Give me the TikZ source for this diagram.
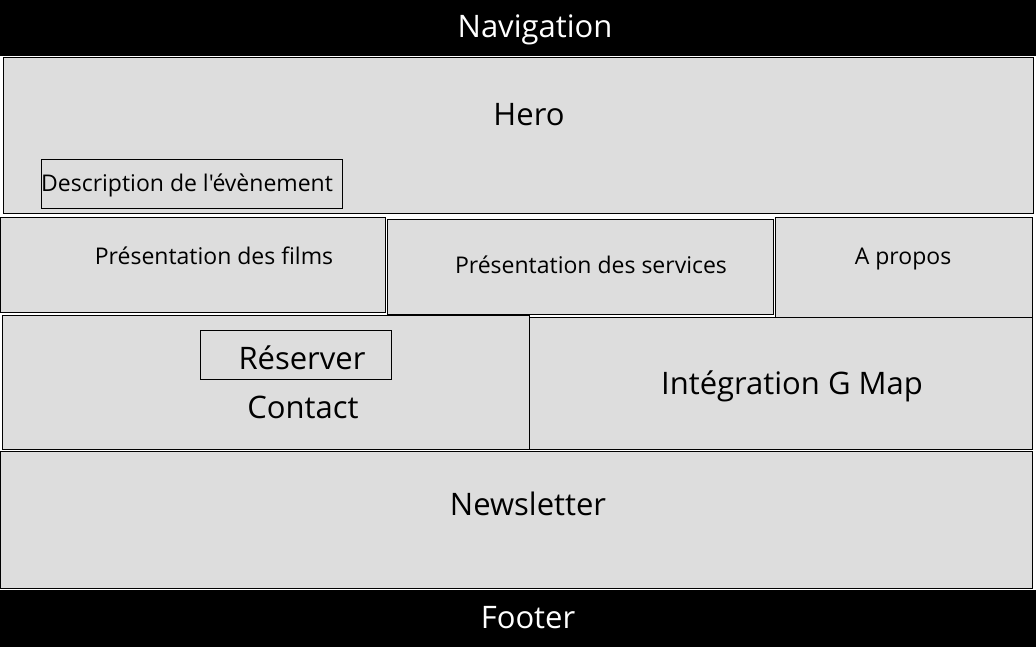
\documentclass[tikz,border=0pt]{standalone}
\usepackage{fontspec}
\setmainfont{Open Sans}[Ligatures=TeXOff]
\usetikzlibrary{positioning}
\definecolor{panelgray}{RGB}{221,221,221}
\newcommand{\fsz}[1]{\fontsize{#1}{#1}\selectfont}

\begin{document}
\begin{tikzpicture}[x=1pt, y=-1pt,
    panel/.style={draw, fill=panelgray, line width=1.3pt, inner sep=0pt, anchor=north west},
    btn/.style={draw, line width=1.3pt, inner sep=0pt, anchor=north west},
    bar/.style={fill=black, inner sep=0pt, anchor=north west},
    big/.style={font=\fsz{31}, anchor=base, inner sep=0pt},
    small/.style={font=\fsz{23}, anchor=base, inner sep=0pt},
]
\useasboundingbox (0,0) rectangle (1036,647);
% top and bottom bars
\node[bar, minimum width=1036pt, minimum height=56pt] (nav) at (0,0) {};
\node[bar, minimum width=1036pt, minimum height=57pt] (footer) at (0,590) {};
\node[big, text=white] (navtxt) at (535,38) {Navigation};
\node[big, text=white] (foottxt) at (528,628) {Footer};
% hero
\node[panel, minimum width=1030pt, minimum height=156pt] (hero) at (3,57) {};
\node[big] (herotxt) at (529,126) {Hero};
\node[btn, minimum width=301pt, minimum height=49pt] (desc) at (41,159) {};
\node[small, anchor=base west] (desctxt) at (41,192) {Description de l'évènement};
% middle row
\node[panel, minimum width=385pt, minimum height=95pt] (films) at (0,217) {};
\node[small] (filmstxt) at (214,265) {Présentation des films};
\node[panel, minimum width=386pt, minimum height=95pt] (services) at (387,219) {};
\node[small] (servtxt) at (591,273) {Présentation des services};
\node[panel, minimum width=257pt, minimum height=102pt] (apropos) at (775,217) {};
\node[small] (aproptxt) at (903,264) {A propos};
% contact and map
\node[panel, minimum width=527pt, minimum height=134pt] (contact) at (2,315) {};
\node[btn, minimum width=191pt, minimum height=49pt] (reserver) at (200,330) {};
\node[big] (restxt) at (302,369) {Réserver};
\node[big] (contxt) at (303,418) {Contact};
\node[panel, minimum width=503pt, minimum height=132pt] (gmap) at (529,317) {};
\node[big] (gmaptxt) at (792,394) {Intégration G Map};
% newsletter
\node[panel, minimum width=1032pt, minimum height=137pt] (news) at (0,451) {};
\node[big] (newstxt) at (528,515) {Newsletter};
\end{tikzpicture}
\end{document}
